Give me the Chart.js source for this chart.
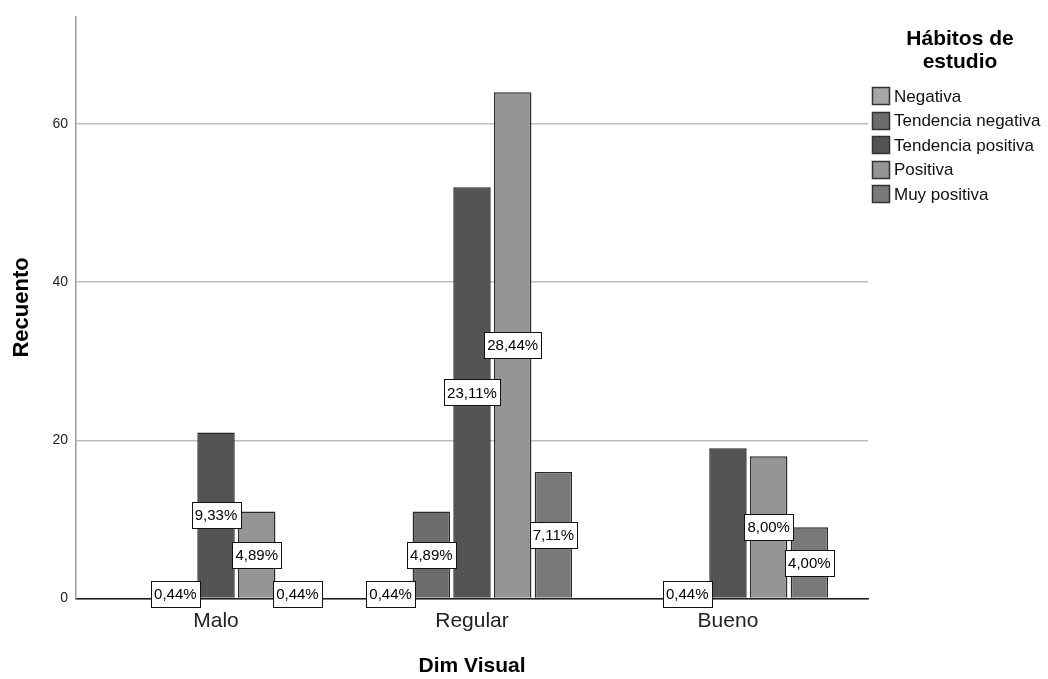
<!DOCTYPE html>
<html><head><meta charset="utf-8">
<script src="https://cdn.jsdelivr.net/npm/chart.js@4.4.1/dist/chart.umd.min.js"></script>
<style>html,body{margin:0;padding:0;background:#fff;overflow:hidden}#wrap{position:relative;width:1048px;height:679px}canvas{display:block}</style>
</head><body><div id="wrap"><canvas id="c" width="1048" height="679" style="width:1048px;height:679px"></canvas></div>
<script>
const categories = ['Malo', 'Regular', 'Bueno'];
const seriesNames = ['Negativa', 'Tendencia negativa', 'Tendencia positiva', 'Positiva', 'Muy positiva'];
const negativa = [0, 1, 0];
const tendenciaNegativa = [1, 11, 1];
const tendenciaPositiva = [21, 52, 19];
const positiva = [11, 64, 18];
const muyPositiva = [1, 16, 9];
const yTickValues = [0, 20, 40, 60];
const legendTitle = ['Hábitos de', 'estudio'];
const xTitle = 'Dim Visual';
const yTitle = 'Recuento';
// percentage labels hidden in the original (series index, category index)
const hiddenPct = [[2, 2]];

const seriesValues = [negativa, tendenciaNegativa, tendenciaPositiva, positiva, muyPositiva];
const fillColors = ['#a4a4a4', '#6a6a6a', '#525252', '#939393', '#777777'];
const dotColors = ['#b4b4b4', '#7a7a7a', '#606060', '#a2a2a2', '#868686'];
const total = seriesValues.reduce((s, arr) => s + arr.reduce((a, b) => a + b, 0), 0);
const FONT = 'Arial, "Liberation Sans", sans-serif';
Chart.defaults.font.family = FONT;
Chart.defaults.color = '#111';

const canvas = document.getElementById('c');
const mainCtx = canvas.getContext('2d');
function makePattern(base, dot) {
  const t = document.createElement('canvas');
  t.width = 4; t.height = 4;
  const g = t.getContext('2d');
  g.fillStyle = base; g.fillRect(0, 0, 4, 4);
  g.fillStyle = dot; g.fillRect(1, 1, 1, 1); g.fillRect(3, 3, 1, 1);
  return mainCtx.createPattern(t, 'repeat');
}
const patterns = fillColors.map((c, i) => makePattern(c, dotColors[i]));

const datasets = seriesNames.map((name, d) => ({
  label: name,
  data: seriesValues[d].map((v, i) => ({ x: i, y: v })),
  backgroundColor: patterns[d],
  borderColor: '#2a2a2a',
  borderWidth: 1.5,
  borderSkipped: 'start',
  categoryPercentage: 0.795,
  barPercentage: 0.92
}));

function fmtPct(v) {
  return (v / total * 100).toFixed(2).replace('.', ',') + '%';
}

const pctLabels = {
  id: 'pctLabels',
  afterDatasetsDraw(chart) {
    const ctx = chart.ctx;
    ctx.save();
    ctx.font = '15px ' + FONT;
    ctx.textAlign = 'center';
    ctx.textBaseline = 'middle';
    chart.data.datasets.forEach((ds, d) => {
      const meta = chart.getDatasetMeta(d);
      meta.data.forEach((bar, i) => {
        const v = seriesValues[d][i];
        if (!v) return;
        if (hiddenPct.some(h => h[0] === d && h[1] === i)) return;
        const p = bar.getProps(['x', 'y', 'base'], true);
        const cy = (p.y + p.base) / 2;
        const txt = fmtPct(v);
        const w = Math.round(ctx.measureText(txt).width + 6);
        const h = 26;
        const bx = Math.round(p.x - w / 2) + 0.5;
        const by = Math.round(cy - h / 2) + 0.5;
        ctx.fillStyle = '#ffffff';
        ctx.fillRect(bx, by, w, h);
        ctx.strokeStyle = '#111';
        ctx.lineWidth = 1;
        ctx.strokeRect(bx, by, w, h);
        ctx.fillStyle = '#000';
        ctx.fillText(txt, p.x, cy + 1);
      });
    });
    ctx.restore();
  }
};

const customLegend = {
  id: 'customLegend',
  afterDraw(chart) {
    const ctx = chart.ctx;
    ctx.save();
    ctx.fillStyle = '#000';
    ctx.font = 'bold 21px ' + FONT;
    ctx.textAlign = 'center';
    ctx.textBaseline = 'middle';
    legendTitle.forEach((t, k) => ctx.fillText(t, 960, 39 + k * 23));
    ctx.font = '17px ' + FONT;
    ctx.textAlign = 'left';
    chart.data.datasets.forEach((ds, d) => {
      const cy = 96 + d * 24.5;
      ctx.fillStyle = ds.backgroundColor;
      ctx.fillRect(872, Math.round(cy - 9), 18, 18);
      ctx.strokeStyle = '#333';
      ctx.lineWidth = 1.5;
      ctx.strokeRect(872.5, Math.round(cy - 9) + 0.5, 17, 17);
      ctx.fillStyle = '#111';
      ctx.fillText(ds.label, 894, cy + 1);
    });
    ctx.restore();
  }
};

new Chart(canvas, {
  type: 'bar',
  data: { datasets },
  options: {
    responsive: false,
    animation: false,
    devicePixelRatio: 1,
    layout: { padding: { left: 0, top: 15, right: 180, bottom: 0 } },
    plugins: { legend: { display: false }, tooltip: { enabled: false } },
    scales: {
      x: {
        type: 'linear',
        min: -0.547,
        max: 2.547,
        offset: false,
        afterBuildTicks: s => { s.ticks = categories.map((c, i) => ({ value: i })); },
        afterFit: s => { s.height = 80.5; },
        ticks: {
          callback: v => categories[v],
          font: { size: 21 },
          color: '#222',
          padding: 10,
          maxRotation: 0,
          autoSkip: false
        },
        grid: { display: false, drawTicks: false },
        border: { display: true, color: '#1e1e1e', width: 1.5 },
        title: { display: true, text: xTitle, font: { size: 21, weight: 'bold', lineHeight: 1 }, color: '#000', padding: { top: 0, bottom: 2 } }
      },
      y: {
        min: 0,
        max: 73.6,
        afterBuildTicks: s => { s.ticks = yTickValues.map(v => ({ value: v })); },
        afterFit: s => { s.width = 76; },
        ticks: { font: { size: 14 }, color: '#222', padding: 8 },
        grid: { color: '#bdbdbd', lineWidth: 1.5, drawTicks: false },
        border: { display: true, color: '#9a9a9a', width: 1.5 },
        title: { display: true, text: yTitle, font: { size: 22, weight: 'bold', lineHeight: 1 }, color: '#000', padding: { top: 11, bottom: 0 } }
      }
    }
  },
  plugins: [pctLabels, customLegend]
});
</script></body></html>
